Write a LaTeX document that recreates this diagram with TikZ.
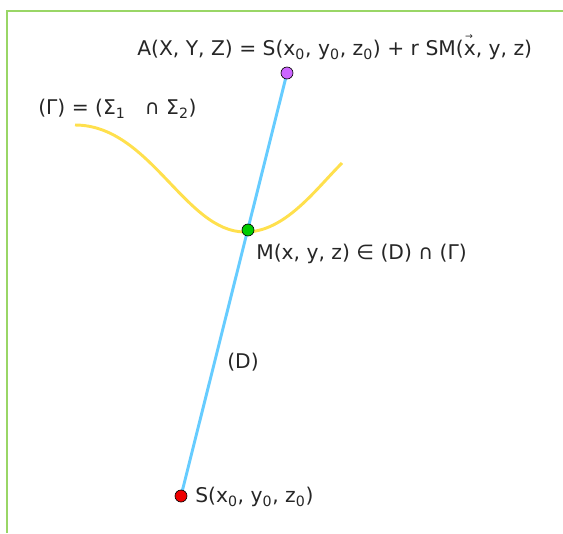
\documentclass[tikz,border=0pt]{standalone}
\usepackage{fontspec}
\setmainfont{DejaVu Sans}
\usepackage{tikz}
\usetikzlibrary{positioning,calc}

\definecolor{lineblue}{RGB}{102,204,255}
\definecolor{curveyellow}{RGB}{255,224,77}
\definecolor{frameg}{RGB}{153,214,102}
\definecolor{ptpurple}{RGB}{204,102,255}
\definecolor{ptgreen}{RGB}{0,204,0}
\definecolor{ptred}{RGB}{238,0,0}

\newcommand{\sub}[1]{\textsubscript{#1}}
\newcommand{\arrx}{\rlap{\raisebox{1.45ex}{\kern1pt\fontsize{7}{7}\selectfont →}}x}

\begin{document}
\begin{tikzpicture}[x=0.75pt,y=-0.75pt,
    pt/.style={draw=black, circle, inner sep=0pt, minimum size=9pt, line width=0.5pt},
    lbl/.style={font=\fontsize{15.2}{17}\selectfont, inner sep=0pt, text=black!85}]
  \useasboundingbox (0,0) rectangle (563,533);
  \draw[frameg, line width=1.2pt] (7,533) -- (7,11) -- (563,11);

  % curve (Gamma)
  \draw[curveyellow, line width=2.2pt] (75,125) .. controls (150,125) and (185,232) .. (245,232)
    .. controls (285,232) and (315,190) .. (342,163);

  \coordinate (Sp) at (181,496);
  \coordinate (Ap) at (287,73);
  \draw[lineblue, line width=2.2pt] (Sp) -- (Ap);

  \node[pt, fill=ptpurple] (A) at (Ap) {};
  \node[pt, fill=ptgreen] (M) at (248,230) {};
  \node[pt, fill=ptred] (S) at (Sp) {};

  \node[lbl, anchor=west] (la) at (137,47) {A(X, Y, Z) = S(x\sub{0}, y\sub{0}, z\sub{0}) + r SM(\arrx, y, z)};
  \node[lbl, anchor=west] (lg) at (38,109) {(Γ) = (Σ\sub{1} \ \ ∩ Σ\sub{2})};
  \node[lbl, anchor=west] (lm) at (256,254) {M(x, y, z) ∈ (D) ∩ (Γ)};
  \node[lbl] (ld) at (243,362) {(D)};
  \node[lbl, anchor=west] (ls) at (195,497) {S(x\sub{0}, y\sub{0}, z\sub{0})};
\end{tikzpicture}
\end{document}
